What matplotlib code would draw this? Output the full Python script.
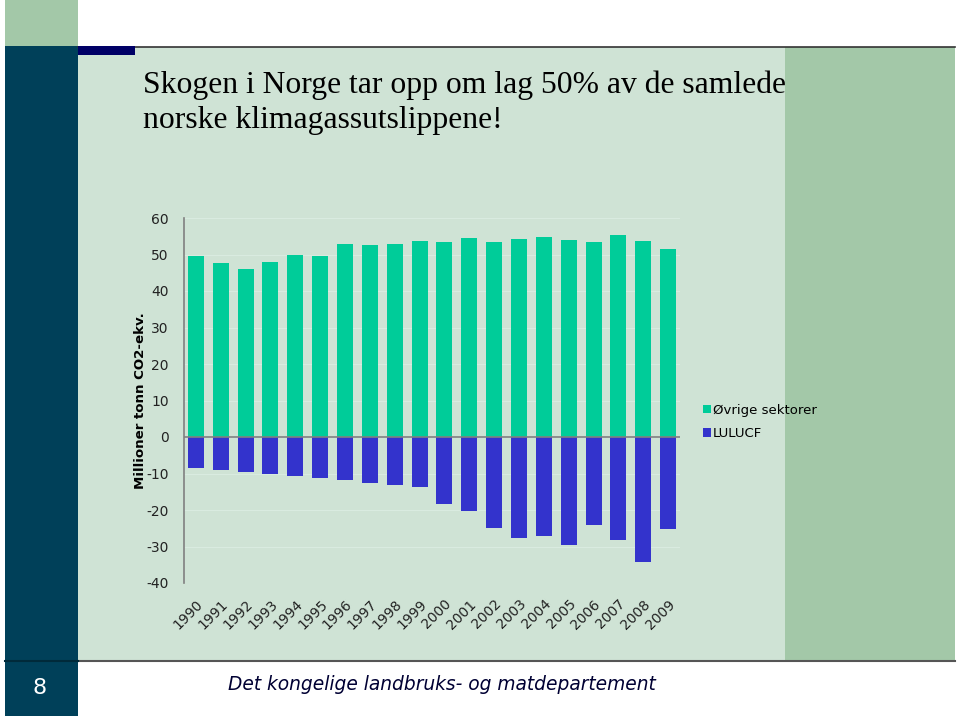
import matplotlib
matplotlib.use("Agg")
import matplotlib.pyplot as plt
from matplotlib.patches import Rectangle
from matplotlib.lines import Line2D

# ============================================================
# DATA
# ============================================================

years = [str(y) for y in range(1990, 2010)]
ovrige = [49.7, 47.7, 45.9, 47.9, 49.8, 49.6, 52.8, 52.7, 52.9, 53.8,
          53.4, 54.5, 53.4, 54.2, 54.7, 53.9, 53.5, 55.3, 53.7, 51.4]
lulucf = [-8.5, -9.0, -9.5, -10.0, -10.7, -11.1, -11.8, -12.5, -13.2, -13.7,
          -18.4, -20.3, -25.0, -27.7, -27.1, -29.5, -24.1, -28.2, -34.2, -25.2]
y_ticks = [60, 50, 40, 30, 20, 10, 0, -10, -20, -30, -40]

title = "Skogen i Norge tar opp om lag 50% av de samlede\nnorske klimagassutslippene!"
footer = "Det kongelige landbruks- og matdepartement"
ylabel = "Millioner tonn CO2-ekv."

# ============================================================
# COLOURS
# ============================================================

BG_LIGHT = "#cfe3d5"
BG_DARK = "#a3c8a8"
TEAL = "#004059"
NAVY = "#000066"
GREEN_BAR = "#00cc99"
BLUE_BAR = "#3333cc"

W, H = 960, 716
fig = plt.figure(figsize=(W / 100, H / 100), dpi=100)
fig.patch.set_facecolor("white")


def px_rect(x0, y0, x1, y1, color, z=0):
    # rectangle given in pixel coords (origin top-left)
    fig.add_artist(Rectangle((x0 / W, 1 - y1 / H), (x1 - x0) / W, (y1 - y0) / H,
                             transform=fig.transFigure, facecolor=color,
                             edgecolor="none", zorder=z))


def px_line(x0, y0, x1, y1, color, lw):
    fig.add_artist(Line2D([x0 / W, x1 / W], [1 - y0 / H, 1 - y1 / H],
                          transform=fig.transFigure, color=color, lw=lw, zorder=2))


# slide background
px_rect(5, 0, 78, 46, BG_DARK)
px_rect(5, 46, 78, 716, TEAL)
px_rect(78, 47, 785, 660, BG_LIGHT)
px_rect(785, 47, 955, 660, BG_DARK)
px_line(78, 46.5, 955, 46.5, "#333333", 1.2)
px_line(78, 661, 955, 661, "#555555", 1.5)
px_rect(78, 46, 135, 55, NAVY, z=3)
px_line(5, 661, 78, 661, "#002a3a", 1.5)

fig.text(143 / W, 1 - 71 / H, title, ha="left", va="top",
         family="Liberation Serif", fontsize=22.8, color="black", linespacing=1.25)

fig.text(40 / W, 1 - 688 / H, "8", ha="center", va="center",
         fontsize=16, color="white", family="DejaVu Sans")
fig.text(442 / W, 1 - 684 / H, footer, ha="center", va="center",
         fontsize=13.4, style="italic", color="#000033", family="DejaVu Sans")

# ============================================================
# CHART
# ============================================================

ax = fig.add_axes([184 / W, 1 - 583 / H, (680 - 184) / W, (583 - 218) / H])
ax.set_facecolor("none")

x = list(range(len(years)))
ax.bar(x, ovrige, width=0.645, color=GREEN_BAR, label="Øvrige sektorer", zorder=2)
ax.bar(x, lulucf, width=0.645, color=BLUE_BAR, label="LULUCF", zorder=2)

ax.set_ylim(-40, 60)
ax.set_xlim(-0.48, len(years) - 0.52)
ax.set_yticks(y_ticks)
ax.set_yticklabels([str(v) for v in y_ticks])
for v in y_ticks:
    ax.axhline(v, color="#d9ebe0", lw=0.8, zorder=1)
ax.axhline(0, color="#808080", lw=1.2, zorder=3)

for s in ["top", "right", "bottom"]:
    ax.spines[s].set_visible(False)
ax.spines["left"].set_color("#808080")
ax.spines["left"].set_linewidth(1.2)

ax.tick_params(axis="y", length=0, pad=11, labelsize=10, labelcolor="#222222")
ax.tick_params(axis="x", length=0, pad=10, labelsize=10, labelcolor="#222222")
ax.set_xticks(x)
ax.set_xticklabels(years, rotation=45, ha="right", rotation_mode="anchor")

ax.set_ylabel(ylabel, fontsize=9.6, fontweight="bold")
ax.yaxis.set_label_coords(-0.075, 0.5)

ax.legend(loc="upper left", bbox_to_anchor=(696 / W, 1 - 397 / H),
          bbox_transform=fig.transFigure, frameon=False, fontsize=9.5,
          handlelength=0.6, handleheight=0.6, handletextpad=0.2,
          labelspacing=0.8, borderpad=0)

plt.savefig("out.png", dpi=100, facecolor=fig.get_facecolor())
